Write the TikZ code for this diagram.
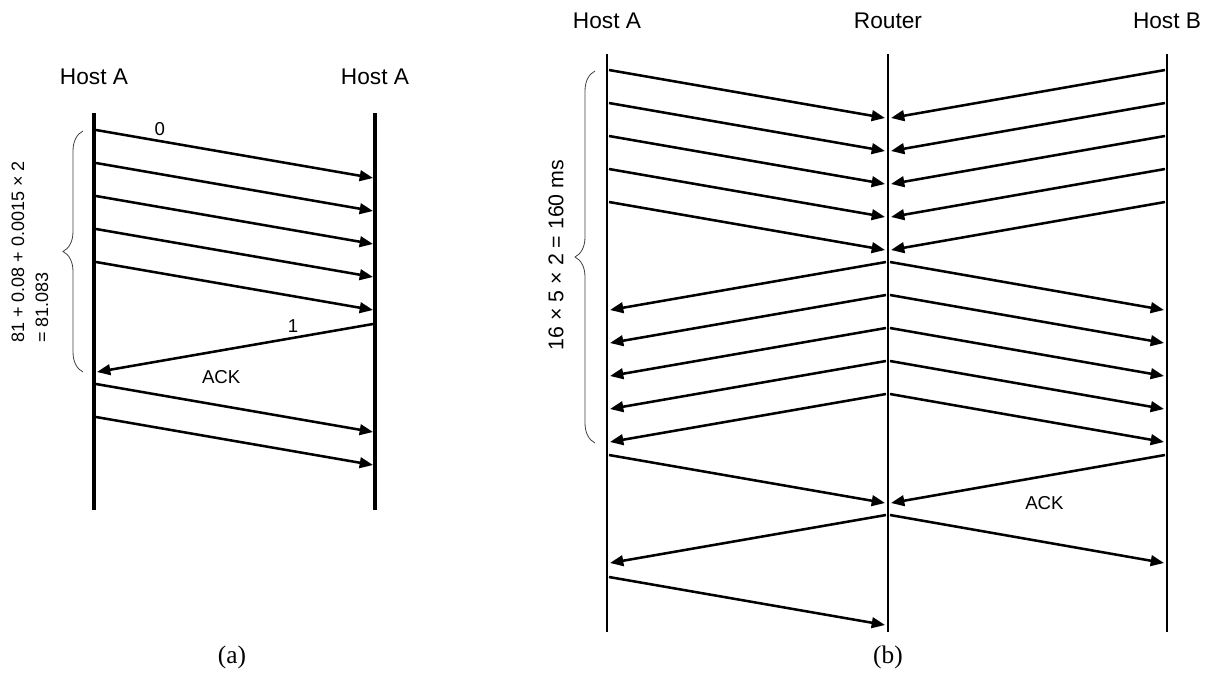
\documentclass[tikz,border=0pt]{standalone}
\usepackage{fontspec}
\setmainfont{Liberation Sans}
\newfontfamily\capfont{Liberation Serif}
\usetikzlibrary{arrows.meta, positioning, calc, decorations.pathreplacing}

\begin{document}
\begin{tikzpicture}[
        x=0.75pt, y=-0.75pt,
        host/.style={font=\fontsize{17}{20}\selectfont},
        lifeline/.style={draw, line width=2.6pt},
        msg/.style={-{Triangle[length=10pt, width=8pt]}, line width=1.9pt},
        msglabel/.style={font=\fontsize{14}{16}\selectfont},
        span/.style={decorate, decoration={brace, amplitude=15pt}, line width=0.6pt, draw=black!75},
        caption/.style={font=\capfont\fontsize{19}{22}\selectfont}
    ]
    \useasboundingbox (0,0) rectangle (1212,674);

    % (a) Hosts
    \node[host] (hA) at (94,77) {Host A};
    \node[host] (hB) at (375,77) {Host A};
    \coordinate (lA) at (94,113);
    \coordinate (lB) at (375,113);

    % Lifelines
    \foreach \i in {lA, lB} {
        \draw[lifeline] (\i) -- ++(0,397);
    }

    % Frames
    \draw[msg] ($(lA)+(2,17)$) -- node[msglabel, pos=0.23, above] (n0) {0} ($(lB)+(-2,65)$);
    \foreach \k in {1,...,4} {
        \draw[msg] ($(lA)+(2,17+33*\k)$) -- ($(lB)+(-2,65+33*\k)$);
    }
    \draw[msg] ($(lB)+(-2,211)$) -- node[msglabel, pos=0.29, above] (n1) {1}
        node[msglabel, pos=0.55, below=11pt] (ackA) {ACK} ($(lA)+(3,259)$);
    \foreach \k in {0,1} {
        \draw[msg] ($(lA)+(2,271+33*\k)$) -- ($(lB)+(-2,319+33*\k)$);
    }

    % Cycle time
    \draw[span] (83,372) -- (83,131);
    \node[rotate=90, align=left, font=\fontsize{13.5}{18}\selectfont] (costA) at (30,252)
        {81 + 0.08 + 0.0015 × 2\\= 81.083};
    \node[caption] (capA) at (232,657) {(a)};

    % (b) Hosts and router
    \node[host] (hA2) at (607,21) {Host A};
    \node[host] (hR) at (888,21) {Router};
    \node[host] (hB2) at (1167,21) {Host B};
    \coordinate (rA) at (607,54);
    \coordinate (rR) at (888,54);
    \coordinate (rB) at (1167,54);

    % Lifelines
    \foreach \i in {rA, rR, rB} {
        \draw[lifeline, line width=2.1pt] (\i) -- ++(0,578);
    }

    % Frames into the router
    \foreach \k in {0,...,4} {
        \draw[msg] ($(rA)+(2,16+33*\k)$) -- ($(rR)+(-3,64+33*\k)$);
        \draw[msg] ($(rB)+(-2,16+33*\k)$) -- ($(rR)+(3,64+33*\k)$);
    }

    % Frames out of the router
    \foreach \k in {0,...,4} {
        \draw[msg] ($(rR)+(-2,208+33*\k)$) -- ($(rA)+(3,256+33*\k)$);
        \draw[msg] ($(rR)+(2,208+33*\k)$) -- ($(rB)+(-3,256+33*\k)$);
    }

    % Next round
    \draw[msg] ($(rA)+(2,401)$) -- ($(rR)+(-3,449)$);
    \draw[msg] ($(rB)+(-2,401)$) -- node[msglabel, pos=0.44, below=11pt] (ackB) {ACK} ($(rR)+(3,449)$);
    \draw[msg] ($(rR)+(-2,461)$) -- ($(rA)+(3,509)$);
    \draw[msg] ($(rR)+(2,461)$) -- ($(rB)+(-3,509)$);
    \draw[msg] ($(rA)+(2,523)$) -- ($(rR)+(-3,571)$);

    % Cycle time
    \draw[span] (595,443) -- (595,71);
    \node[font=\fontsize{16}{19}\selectfont, rotate=90] (costB) at (556,255) {16 × 5 × 2 = 160 ms};
    \node[caption] (capB) at (888,657) {(b)};

\end{tikzpicture}
\end{document}
